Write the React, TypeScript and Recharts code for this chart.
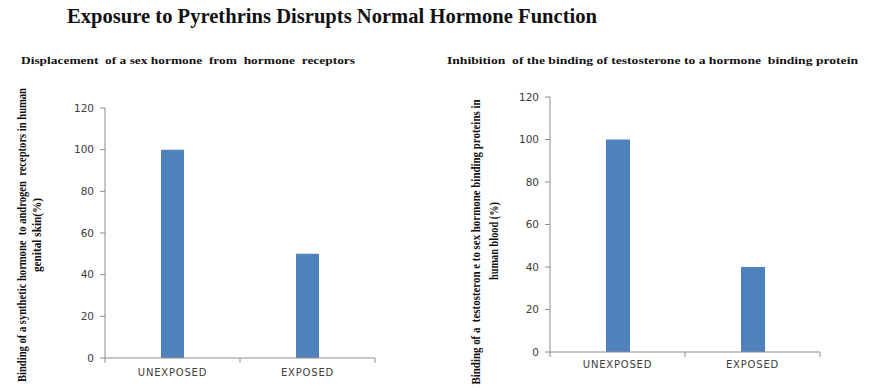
import { BarChart, Bar, XAxis, YAxis } from "recharts";

const categories = ["UNEXPOSED", "EXPOSED"];
const receptorBinding = [100, 50];
const proteinBinding = [100, 40];
const yTicks = [0, 20, 40, 60, 80, 100, 120];

const mainTitle = "Exposure to Pyrethrins Disrupts Normal Hormone Function";
const leftTitle = "Displacement  of a sex hormone  from  hormone  receptors";
const rightTitle = "Inhibition  of the binding of testosterone to a hormone  binding protein";
const leftYLabel = ["Binding of a synthetic hormone  to androgen  receptors in human", "genital skin(%)"];
const rightYLabel = ["Binding of a  testosteron e to sex hormone binding proteins in", "human blood (%)"];

const leftData = categories.map((name, i) => ({ name, value: receptorBinding[i] }));
const rightData = categories.map((name, i) => ({ name, value: proteinBinding[i] }));

const BLUE = "#4F81BD";
const AXIS = "#8c8c8c";
const TICK_TEXT = "#3c3c3c";
const SERIF = "'Liberation Serif', 'Times New Roman', serif";
const SANS = "'DejaVu Sans', sans-serif";

// Excel-style category axis: label in the band, tick marks on band edges
const makeTick = (band: number, dy: number) => (props: any) => {
  const { x, y, payload, index } = props;
  return (
    <g>
      {index === 0 && <line x1={x - band / 2} y1={y} x2={x - band / 2} y2={y + 5} stroke={AXIS} />}
      <line x1={x + band / 2} y1={y} x2={x + band / 2} y2={y + 5} stroke={AXIS} />
      <text
        x={x}
        y={y + dy}
        textAnchor="middle"
        fontSize={10}
        fontFamily={SANS}
        fill={TICK_TEXT}
        letterSpacing={0.8}
      >
        {payload.value}
      </text>
    </g>
  );
};

const yTickStyle = { fontSize: 10.5, fontFamily: SANS, fill: TICK_TEXT };

export default function App() {
  return (
    <div
      style={{
        position: "absolute",
        left: 0,
        top: 0,
        width: 873,
        height: 388,
        background: "#fff",
        overflow: "hidden",
      }}
    >
      <div style={{ position: "absolute", left: 0, top: 0 }}>
        <BarChart
          width={430}
          height={388}
          data={leftData}
          margin={{ top: 108, right: 55, bottom: 5, left: 45 }}
        >
          <XAxis
            dataKey="name"
            height={25}
            axisLine={{ stroke: AXIS }}
            tickLine={false}
            tickSize={0}
            tickMargin={0}
            tick={makeTick(135, 18)}
            interval={0}
          />
          <YAxis
            width={60}
            domain={[0, 120]}
            ticks={yTicks}
            axisLine={{ stroke: AXIS }}
            tickLine={{ stroke: AXIS }}
            tickSize={5}
            tickMargin={6}
            tick={yTickStyle}
          />
          <Bar dataKey="value" fill={BLUE} barSize={23} isAnimationActive={false} />
        </BarChart>
      </div>
      <div style={{ position: "absolute", left: 440, top: 0 }}>
        <BarChart
          width={433}
          height={388}
          data={rightData}
          margin={{ top: 97, right: 53, bottom: 11, left: 50 }}
        >
          <XAxis
            dataKey="name"
            height={25}
            axisLine={{ stroke: AXIS }}
            tickLine={false}
            tickSize={0}
            tickMargin={0}
            tick={makeTick(135, 16)}
            interval={0}
          />
          <YAxis
            width={60}
            domain={[0, 120]}
            ticks={yTicks}
            axisLine={{ stroke: AXIS }}
            tickLine={{ stroke: AXIS }}
            tickSize={5}
            tickMargin={6}
            tick={yTickStyle}
          />
          <Bar dataKey="value" fill={BLUE} barSize={24} isAnimationActive={false} />
        </BarChart>
      </div>
      <svg
        width={873}
        height={388}
        style={{ position: "absolute", left: 0, top: 0, pointerEvents: "none" }}
      >
        <text
          x={67}
          y={23}
          fontFamily={SERIF}
          fontWeight="bold"
          fontSize={22}
          textLength={530}
          lengthAdjust="spacingAndGlyphs"
          fill="#111"
        >
          {mainTitle}
        </text>
        <text
          x={21}
          y={64}
          fontFamily={SERIF}
          fontWeight="bold"
          fontSize={11}
          textLength={334}
          lengthAdjust="spacingAndGlyphs"
          fill="#111"
          style={{ whiteSpace: "pre" }}
        >
          {leftTitle}
        </text>
        <text
          x={447}
          y={64}
          fontFamily={SERIF}
          fontWeight="bold"
          fontSize={11}
          textLength={411}
          lengthAdjust="spacingAndGlyphs"
          fill="#111"
          style={{ whiteSpace: "pre" }}
        >
          {rightTitle}
        </text>
        <g transform="translate(26,235) rotate(-90)">
          <text
            textAnchor="middle"
            fontFamily={SERIF}
            fontWeight="bold"
            fontSize={12}
            textLength={294}
            lengthAdjust="spacingAndGlyphs"
            fill="#111"
            style={{ whiteSpace: "pre" }}
          >
            {leftYLabel[0]}
          </text>
        </g>
        <g transform="translate(41,235) rotate(-90)">
          <text
            textAnchor="middle"
            fontFamily={SERIF}
            fontWeight="bold"
            fontSize={12}
            textLength={74}
            lengthAdjust="spacingAndGlyphs"
            fill="#111"
          >
            {leftYLabel[1]}
          </text>
        </g>
        <g transform="translate(480,242) rotate(-90)">
          <text
            textAnchor="middle"
            fontFamily={SERIF}
            fontWeight="bold"
            fontSize={12}
            textLength={285}
            lengthAdjust="spacingAndGlyphs"
            fill="#111"
            style={{ whiteSpace: "pre" }}
          >
            {rightYLabel[0]}
          </text>
        </g>
        <g transform="translate(498,241) rotate(-90)">
          <text
            textAnchor="middle"
            fontFamily={SERIF}
            fontWeight="bold"
            fontSize={12}
            textLength={78}
            lengthAdjust="spacingAndGlyphs"
            fill="#111"
          >
            {rightYLabel[1]}
          </text>
        </g>
      </svg>
    </div>
  );
}
